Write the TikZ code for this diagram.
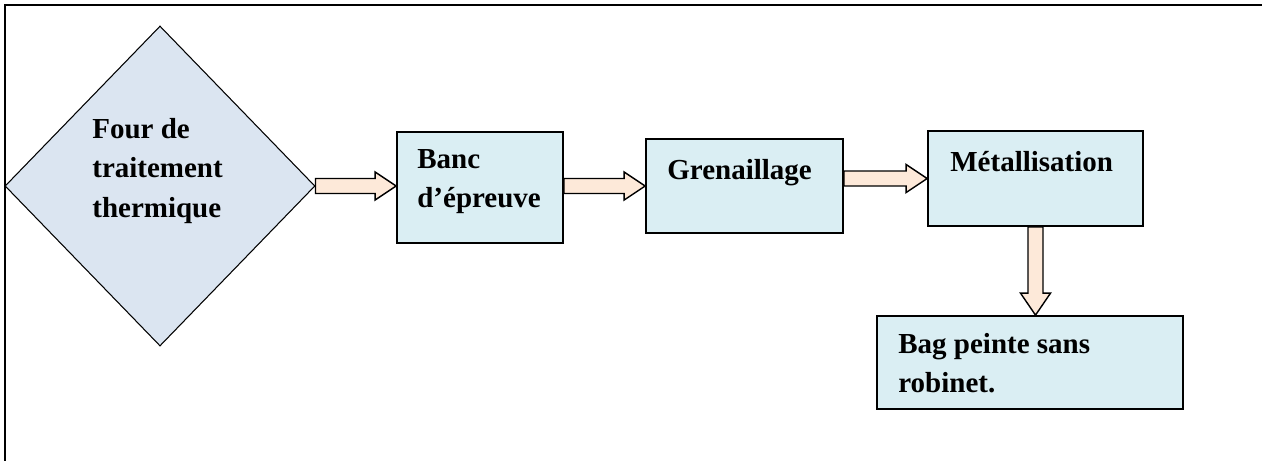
\documentclass[tikz,border=0pt]{standalone}
\usepackage{fontspec}
\setmainfont{Liberation Serif}
\usepackage{xcolor}
\usepackage{tikz}
\usetikzlibrary{shapes.geometric,calc,positioning}
\definecolor{diamfill}{HTML}{DBE5F1}
\definecolor{boxfill}{HTML}{DAEEF3}
\definecolor{arrfill}{HTML}{FDE9D9}
\tikzset{
	blk/.style={draw, line width=1pt, fill=boxfill, inner sep=0pt},
	furn/.style={draw, diamond, line width=0.6pt, fill=diamfill, inner sep=0pt},
	txt/.style={anchor=north west, inner sep=0pt, align=left,
		font={\fontsize{16.5}{22.2}\selectfont\bfseries}},
	flow/.style={draw, line width=0.8pt, fill=arrfill, line join=miter},
	frm/.style={draw, line width=1.1pt},
}
\newcommand{\harrowblk}[2]{%
	\draw[flow] let \p1=(#1), \p2=(#2) in
		(\x1,\y1+0.15cm) -- (\x2-0.42cm,\y1+0.15cm) -- (\x2-0.42cm,\y1+0.28cm)
		-- (\x2,\y1) -- (\x2-0.42cm,\y1-0.28cm) -- (\x2-0.42cm,\y1-0.15cm)
		-- (\x1,\y1-0.15cm) -- cycle;}
\newcommand{\varrowblk}[2]{%
	\draw[flow] let \p1=(#1), \p2=(#2) in
		(\x1-0.15cm,\y1) -- (\x1-0.15cm,\y2+0.44cm) -- (\x1-0.30cm,\y2+0.44cm)
		-- (\x1,\y2) -- (\x1+0.30cm,\y2+0.44cm) -- (\x1+0.15cm,\y2+0.44cm)
		-- (\x1+0.15cm,\y1) -- cycle;}

\begin{document}
\begin{tikzpicture}[x=1cm, y=1cm]
	\useasboundingbox (0,0) rectangle (25.24,-9.20);
	% Page frame, only top and left edges are visible
	\draw[frm] (0.10,-9.30) -- (0.10,-0.10) -- (25.34,-0.10);
	\node[furn, minimum width=6.20cm, minimum height=6.40cm] at (3.20,-3.72) (four) {};
	\node[blk, minimum width=3.32cm, minimum height=2.22cm] at (9.60,-3.75) (banc) {};
	\node[blk, minimum width=3.94cm, minimum height=1.88cm] at (14.89,-3.72) (gren) {};
	\node[blk, minimum width=4.30cm, minimum height=1.90cm] at (20.71,-3.57) (metal) {};
	\node[blk, minimum width=6.12cm, minimum height=1.86cm] at (20.60,-7.25) (bag) {};
	\node[txt] at (1.84,-2.37) (fourtxt) {Four de\\traitement\\thermique};
	\node[txt] at (8.34,-2.98) (banctxt) {Banc\\d’épreuve};
	\node[txt] at (13.34,-3.18) (grentxt) {Grenaillage};
	\node[txt] at (19.00,-3.02) (metaltxt) {Métallisation};
	\node[txt] at (17.96,-6.66) (bagtxt) {Bag peinte sans\\robinet.};
	% Block arrows between stages
	\harrowblk{four.east}{banc.west |- four.east}
	\harrowblk{banc.east |- gren.west}{gren.west}
	\harrowblk{gren.east |- metal.west}{metal.west}
	\varrowblk{metal.south}{bag.north}
\end{tikzpicture}
\end{document}
